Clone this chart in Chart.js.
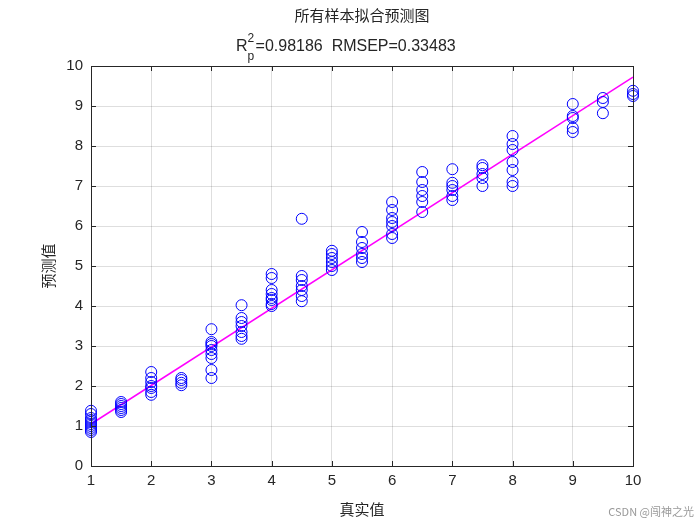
<!DOCTYPE html>
<html>
<head>
<meta charset="UTF-8">
<script src="https://cdn.jsdelivr.net/npm/chart.js"></script>
<style>body{margin:0;background:#fff}#wrap{width:700px;height:525px}</style>
</head>
<body>
<div id="wrap"><canvas id="c"></canvas></div>
<script>
// 真实值分组 与 对应预测值
const trueLevels = [1, 1.5, 2, 2.5, 3, 3.5, 4, 4.5, 5, 5.5, 6, 6.5, 7, 7.5, 8, 9, 9.5, 10];
const predicted = [
  [0.85,0.9,0.95,1.0,1.05,1.1,1.15,1.2,1.3,1.38],
  [1.35,1.4,1.45,1.5,1.55,1.6],
  [1.78,1.85,1.95,2.0,2.1,2.2,2.35],
  [2.02,2.08,2.15,2.2],
  [2.2,2.4,2.7,2.8,2.9,3.0,3.05,3.1,3.42],
  [3.18,3.25,3.35,3.5,3.6,3.7,4.02],
  [4.0,4.05,4.15,4.2,4.3,4.4,4.7,4.8],
  [4.12,4.25,4.4,4.5,4.65,4.75,6.18],
  [4.9,5.0,5.1,5.2,5.3,5.38],
  [5.1,5.2,5.3,5.45,5.6,5.85],
  [5.7,5.8,6.0,6.1,6.2,6.4,6.6],
  [6.35,6.6,6.75,6.9,7.1,7.35],
  [6.65,6.75,6.9,7.0,7.08,7.42],
  [7.0,7.2,7.3,7.45,7.52],
  [7.0,7.1,7.4,7.6,7.9,8.05,8.25],
  [8.35,8.45,8.7,8.75,9.05],
  [8.82,9.1,9.2],
  [9.25,9.3,9.38]
];
const fitLine = [[1, 1.05], [10, 9.72]];
const xTicks = [1,2,3,4,5,6,7,8,9,10];
const yTicks = [0,1,2,3,4,5,6,7,8,9,10];

const points = [];
trueLevels.forEach((t, i) => predicted[i].forEach(v => points.push({x: t, y: v})));

const cn = '"Noto Sans CJK SC", sans-serif';
const decor = {
  id: 'decor',
  afterDraw(chart) {
    const ctx = chart.ctx, a = chart.chartArea;
    ctx.save();
    ctx.strokeStyle = '#262626'; ctx.lineWidth = 1;
    ctx.strokeRect(a.left + 0.5, a.top + 0.5, a.right - a.left, a.bottom - a.top);
    // inward ticks
    const xs = chart.scales.x, ys = chart.scales.y;
    ctx.beginPath();
    xTicks.forEach(v => { const p = Math.round(xs.getPixelForValue(v)) + 0.5;
      ctx.moveTo(p, a.bottom); ctx.lineTo(p, a.bottom - 5); ctx.moveTo(p, a.top); ctx.lineTo(p, a.top + 5); });
    yTicks.forEach(v => { const p = Math.round(ys.getPixelForValue(v)) + 0.5;
      ctx.moveTo(a.left, p); ctx.lineTo(a.left + 5, p); ctx.moveTo(a.right, p); ctx.lineTo(a.right - 5, p); });
    ctx.stroke();
    // titles
    ctx.fillStyle = '#262626'; ctx.textBaseline = 'alphabetic';
    ctx.font = '15px ' + cn; ctx.textAlign = 'center';
    ctx.fillText('所有样本拟合预测图', 362, 21);
    ctx.font = '16px Arial, "Liberation Sans"'; ctx.textAlign = 'left';
    let x = 236;
    ctx.fillText('R', x, 51); const rw = ctx.measureText('R').width;
    ctx.font = '12px Arial, "Liberation Sans"';
    ctx.fillText('2', x + rw, 42); ctx.fillText('p', x + rw, 60);
    ctx.font = '16px Arial, "Liberation Sans"';
    ctx.fillText('=0.98186  RMSEP=0.33483', x + rw + 8, 51);
    ctx.font = '15px ' + cn; ctx.textAlign = 'center';
    ctx.fillText('真实值', 362, 515);
    ctx.translate(54, 266); ctx.rotate(-Math.PI / 2);
    ctx.fillText('预测值', 0, 0);
    ctx.restore();
    ctx.save();
    ctx.font = '11px ' + cn; ctx.fillStyle = '#999'; ctx.textAlign = 'right';
    ctx.fillText('CSDN @闯神之光', 694, 516);
    ctx.restore();
  }
};

new Chart(document.getElementById('c'), {
  type: 'scatter',
  data: {
    datasets: [
      { data: points, showLine: false, pointStyle: 'circle', pointRadius: 5.5, clip: false,
        borderColor: '#0000ff', backgroundColor: 'rgba(0,0,0,0)', borderWidth: 1 },
      { data: fitLine.map(p => ({x: p[0], y: p[1]})), showLine: true, pointRadius: 0,
        borderColor: '#ff00ff', borderWidth: 1.5 }
    ]
  },
  options: {
    responsive: true, maintainAspectRatio: false, animation: false,
    layout: { padding: { top: 66, right: 67, bottom: 0, left: 0 } },
    plugins: { legend: { display: false }, tooltip: { enabled: false } },
    scales: {
      x: { type: 'linear', min: 1, max: 10,
        afterBuildTicks: s => { s.ticks = xTicks.map(v => ({value: v})); },
        afterFit: s => { s.height = 59; },
        grid: { color: 'rgba(0,0,0,0.13)', drawTicks: false },
        border: { display: false },
        ticks: { color: '#262626', font: { size: 15, family: 'Arial, "Liberation Sans"' }, padding: 6 } },
      y: { type: 'linear', min: 0, max: 10,
        afterBuildTicks: s => { s.ticks = yTicks.map(v => ({value: v})); },
        afterFit: s => { s.width = 91; },
        grid: { color: 'rgba(0,0,0,0.13)', drawTicks: false },
        border: { display: false },
        ticks: { color: '#262626', font: { size: 15, family: 'Arial, "Liberation Sans"' }, padding: 8 } }
    }
  },
  plugins: [decor]
});
</script>
</body>
</html>
